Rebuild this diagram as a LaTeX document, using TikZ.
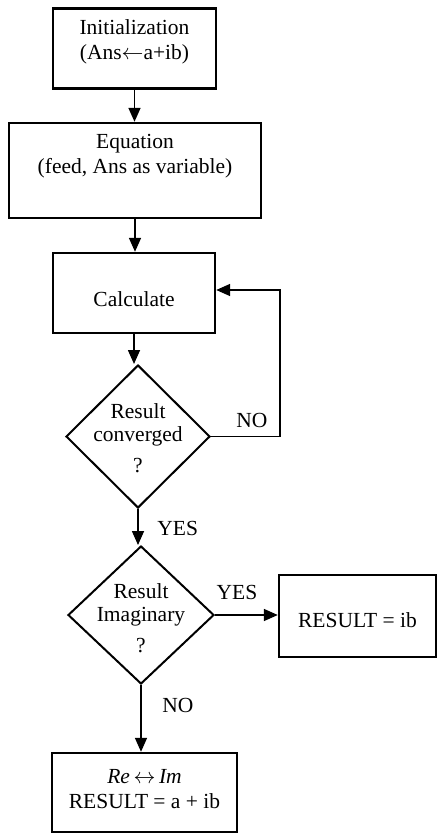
\documentclass[tikz,border=0pt]{standalone}
\usepackage{fontspec}
\setmainfont{Liberation Serif}
\usetikzlibrary{shapes.geometric,arrows.meta}
\begin{document}
\begin{tikzpicture}[x=0.5pt,y=-0.5pt,
  every node/.style={font=\fontsize{10.75}{12.5}\selectfont},
  boxshape/.style={draw,line width=1.2pt,rectangle,inner sep=0pt},
  diashape/.style={draw,line width=1pt,diamond,inner sep=0pt},
  txt/.style={align=center,inner sep=0pt},
  lbl/.style={inner sep=0pt},
  conn/.style={line width=0.8pt,-{Triangle[length=7pt,width=6pt]}},
  plain/.style={line width=0.8pt}]
\useasboundingbox (0,0) rectangle (438,834);
% shapes
\node[boxshape,minimum width=81.5pt,minimum height=40pt] (b1) at (134.5,48.5) {};
\node[boxshape,minimum width=126pt,minimum height=47.5pt] (b2) at (135,170.5) {};
\node[boxshape,minimum width=81pt,minimum height=40pt] (b3) at (134,293) {};
\node[diashape,minimum width=72pt,minimum height=71.5pt] (d1) at (138,436.5) {};
\node[diashape,minimum width=73pt,minimum height=69pt] (d2) at (141,615) {};
\node[boxshape,minimum width=78.5pt,minimum height=41pt] (b4) at (357.5,616) {};
\node[boxshape,minimum width=92.5pt,minimum height=39.5pt] (b5) at (144.5,792.5) {};
% texts
\node[txt] (t1) at (134.5,42) {Initialization\\(Ans$\leftarrow$a+ib)};
\node[txt] (t2) at (135,156) {Equation\\(feed, Ans as variable)};
\node[txt] (t3) at (134,299) {Calculate};
\node[txt] (t4) at (138,425) {Result\\[-1pt]converged};
\node[txt] (t4q) at (138,466) {?};
\node[txt] (t5) at (141,605) {Result\\[-1pt]Imaginary};
\node[txt] (t5q) at (141,646) {?};
\node[txt] (t6) at (357.5,620) {RESULT = ib};
\node[txt] (t7) at (144.5,789.5) {\textit{Re}\,$\leftrightarrow$\,\textit{Im}\\RESULT = a + ib};
% labels
\node[lbl,anchor=west] (l1) at (157,528) {YES};
\node[lbl] (l2) at (252,420) {NO};
\node[lbl] (l3) at (237,592) {YES};
\node[lbl] (l4) at (178,705) {NO};
% connectors
\coordinate (fb) at (280,290);
\draw[conn] (b1.south) -- (b1.south |- b2.north);
\draw[conn] (b2.south) -- (b2.south |- b3.north);
\draw[conn] (b3.south) -- (b3.south |- d1.north);
\draw[conn] (d1.south) -- (d1.south |- d2.north);
\draw[conn] (d2.south) -- (d2.south |- b5.north);
\draw[conn] (d2.east) -- (d2.east -| b4.west);
\draw[conn] (d1.east) -| (fb) -- (b3.east |- fb);
\end{tikzpicture}
\end{document}
